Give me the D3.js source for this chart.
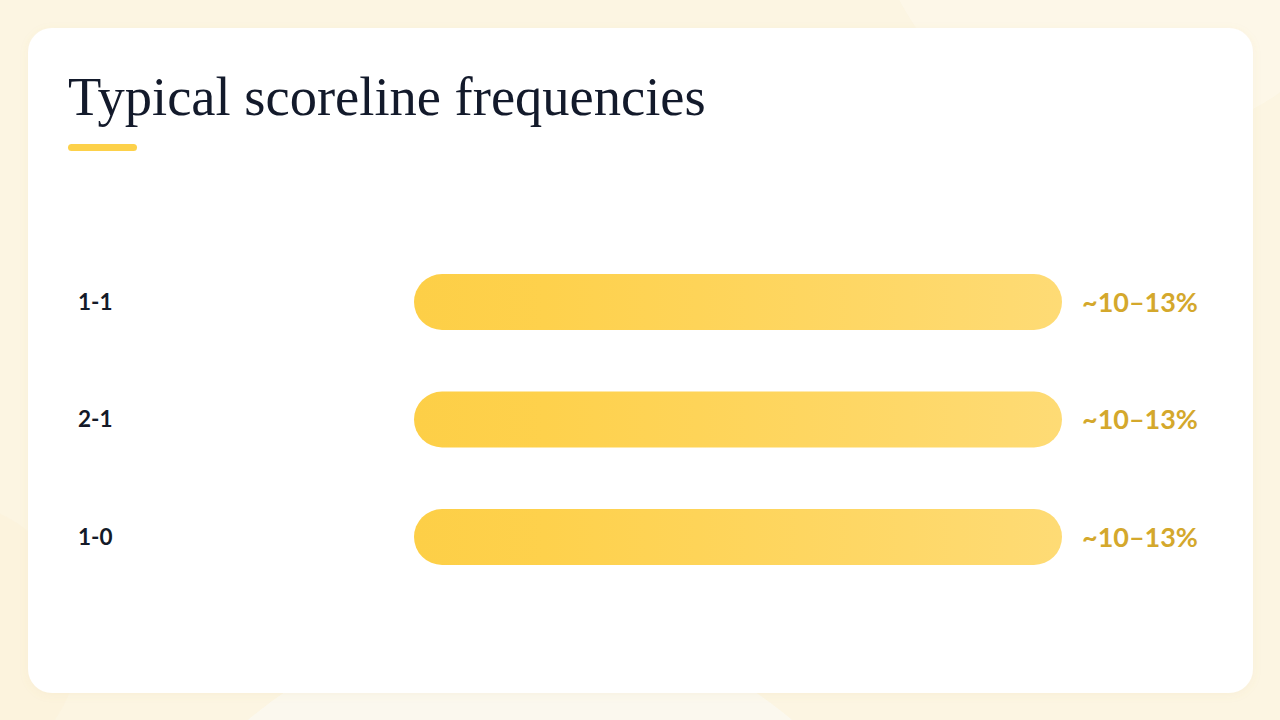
<!DOCTYPE html>
<html><head><meta charset="utf-8">
<script src="https://cdn.jsdelivr.net/npm/d3@7"></script>
<style>html,body{margin:0;padding:0;background:#fcf5e2;overflow:hidden}</style>
</head><body>
<svg id="chart" width="1280" height="720"></svg>
<script>
const categories = ["1-1", "2-1", "1-0"];
const values = [11.5, 11.5, 11.5];
const valueLabels = ["~10–13%", "~10–13%", "~10–13%"];
const title = "Typical scoreline frequencies";

const svg = d3.select("#chart");
const W = 1280, H = 720;
const defs = svg.append("defs");

// background
svg.append("rect").attr("width", W).attr("height", H).attr("fill", "#fcf5e2");
svg.append("circle").attr("cx", 1130).attr("cy", -120).attr("r", 260).attr("fill", "#fdf8ea").attr("opacity", 0.8);
svg.append("circle").attr("cx", 520).attr("cy", 1040).attr("r", 420).attr("fill", "#fbf8f0").attr("opacity", 0.9);
svg.append("circle").attr("cx", -60).attr("cy", 640).attr("r", 140).attr("fill", "#fbf1da").attr("opacity", 0.6);

// card
const shadow = defs.append("filter").attr("id", "sh").attr("x", "-5%").attr("y", "-5%").attr("width", "110%").attr("height", "110%");
shadow.append("feDropShadow").attr("dx", 0).attr("dy", 2).attr("stdDeviation", 4).attr("flood-color", "#c8a850").attr("flood-opacity", 0.08);
svg.append("rect").attr("x", 28).attr("y", 28).attr("width", 1225).attr("height", 665)
  .attr("rx", 24).attr("fill", "#ffffff").attr("filter", "url(#sh)");

// title
const t = svg.append("text").attr("x", 68).attr("y", 115)
  .attr("font-family", "'Liberation Serif', 'DejaVu Serif', serif")
  .attr("font-size", 48).attr("fill", "#131a2b").text(title);
const tw = t.node().getComputedTextLength();
t.attr("font-size", 48 * 638 / tw);

svg.append("rect").attr("x", 68).attr("y", 144).attr("width", 69).attr("height", 7)
  .attr("rx", 3.5).attr("fill", "#fdd14a");

// gradient
const grad = defs.append("linearGradient").attr("id", "barGrad").attr("x1", "0%").attr("x2", "100%");
grad.append("stop").attr("offset", "0%").attr("stop-color", "#fdcf47");
grad.append("stop").attr("offset", "20%").attr("stop-color", "#fed14c");
grad.append("stop").attr("offset", "100%").attr("stop-color", "#fedb75");

const x = d3.scaleLinear().domain([0, d3.max(values)]).range([414, 1062]);
const y = d3.scalePoint().domain(categories).range([302, 537]);
const bh = 56;
svg.selectAll("rect.bar").data(categories).join("rect").attr("class", "bar")
  .attr("x", x(0))
  .attr("y", d => y(d) - bh / 2)
  .attr("width", (d, i) => x(values[i]) - x(0))
  .attr("height", bh).attr("rx", bh / 2)
  .attr("fill", "url(#barGrad)");

svg.selectAll("text.cat").data(categories).join("text").attr("class", "cat")
  .attr("x", 78).attr("y", d => y(d))
  .attr("dy", "0.35em")
  .attr("font-family", "Lato, 'Open Sans', sans-serif").attr("font-weight", 700)
  .attr("font-size", 22.5).attr("fill", "#141a28").text(d => d);

const vals = svg.selectAll("text.val").data(categories).join("text").attr("class", "val")
  .attr("x", (d, i) => x(values[i]) + 20).attr("y", d => y(d))
  .attr("dy", "0.36em")
  .attr("font-family", "Lato, 'Open Sans', sans-serif").attr("font-weight", 700)
  .attr("font-size", 25).attr("fill", "#d4a82c").text((d, i) => valueLabels[i]);
const vw = vals.node().getComputedTextLength();
vals.attr("font-size", 25 * 116 / vw);
</script>
</body></html>
